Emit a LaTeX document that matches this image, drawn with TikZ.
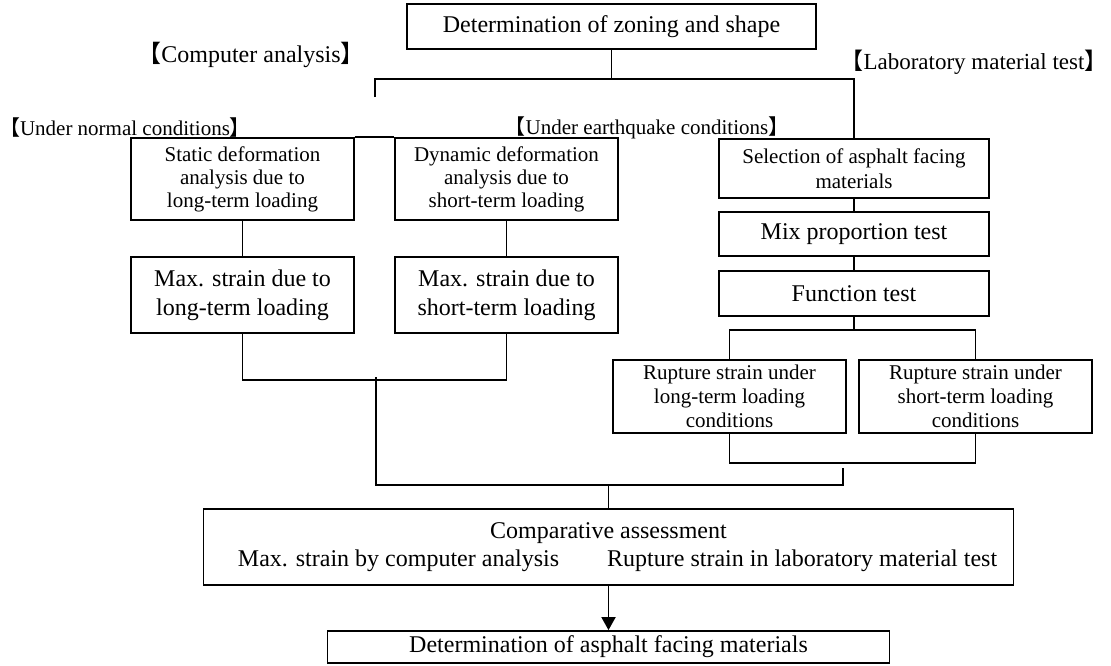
\documentclass[tikz,border=0pt]{standalone}
\usepackage{fontspec}
\setmainfont{Liberation Serif}
\newfontfamily\cjk{Noto Sans CJK JP}
\usetikzlibrary{arrows.meta,positioning,calc}
\newcommand{\openbr}{{\cjk 【}}
\newcommand{\closebr}{{\cjk 】}}

\begin{document}
\begin{tikzpicture}[x=0.5pt, y=-0.5pt,
    box/.style={rectangle, draw, line width=0.9pt, inner sep=0pt, align=center},
    small/.style={font=\fontsize{10.5}{11.5}\selectfont},
    large/.style={font=\fontsize{12}{14.5}\selectfont},
    heading/.style={anchor=base, inner sep=0pt},
    link/.style={line width=0.9pt}]
  \useasboundingbox (0,0) rectangle (1111,665);

  % Zoning and shape
  \node[box, large, minimum width=204.5pt, minimum height=22.5pt] (zoning) at (611.5,26.5) {Determination of zoning and shape};

  % Headings
  \node[heading, font=\fontsize{12}{14}\selectfont] (computer) at (251,62) {\openbr Computer analysis\closebr};
  \node[heading, font=\fontsize{11.5}{14}\selectfont] (laboratory) at (974,69) {\openbr Laboratory material test\closebr};
  \node[heading, font=\fontsize{10.5}{12}\selectfont] (normal) at (125,135) {\openbr Under normal conditions\closebr};
  \node[heading, font=\fontsize{10.5}{12}\selectfont] (quake) at (647,134) {\openbr Under earthquake conditions\closebr};

  % Computer analysis
  \node[box, small, minimum width=111.5pt, minimum height=41pt] (static) at (242.5,179) {Static deformation\\analysis due to\\long-term loading};
  \node[box, small, minimum width=111.5pt, minimum height=41pt] (dynamic) at (506.5,179) {Dynamic deformation\\analysis due to\\short-term loading};
  \node[box, large, minimum width=111.5pt, minimum height=38pt] (maxlong) at (242.5,295) {Max. strain due to\\long-term loading};
  \node[box, large, minimum width=111.5pt, minimum height=38pt] (maxshort) at (506.5,295) {Max. strain due to\\short-term loading};

  % Laboratory material test
  \node[box, font=\fontsize{10.5}{12.5}\selectfont, minimum width=135pt, minimum height=29.5pt] (select) at (854,168.5) {Selection of asphalt facing\\materials};
  \node[box, large, minimum width=135pt, minimum height=22pt] (mix) at (854,234) {Mix proportion test};
  \node[box, large, minimum width=135pt, minimum height=22.5pt] (function) at (854,293.5) {Function test};
  \node[box, font=\fontsize{10.5}{12}\selectfont, minimum width=116.5pt, minimum height=36.5pt] (rupturelong) at (729.5,396.5) {Rupture strain under\\long-term loading\\conditions};
  \node[box, font=\fontsize{10.5}{12}\selectfont, minimum width=116.5pt, minimum height=36.5pt] (ruptureshort) at (975.5,396.5) {Rupture strain under\\short-term loading\\conditions};

  % Assessment
  \node[box, font=\fontsize{12}{14}\selectfont, minimum width=405pt, minimum height=38pt] (compare) at (608.5,547) {Comparative assessment\\\hspace*{9pt}Max. strain by computer analysis\hspace{2em}Rupture strain in laboratory material test};
  \node[box, large, minimum width=281pt, minimum height=16pt] (facing) at (608.5,647) {Determination of asphalt facing materials};

  % Branch points
  \coordinate (topsplit) at (375,79);
  \coordinate (topstub) at (375,97);
  \coordinate (cajoin) at (376,380);
  \coordinate (caend) at (376,377);
  \coordinate (labsplit) at (854,330);
  \coordinate (labjoin) at (852,463);
  \coordinate (labend) at (843,468);
  \coordinate (alljoin) at (608.5,485);

  % Connectors
  \draw[link] (zoning.south) -- (zoning.south |- topsplit);
  \draw[link] (topstub) -- (topsplit) -| (select.north);
  \draw[link] (static.north east) -- (dynamic.north west);
  \draw[link] (static) -- (maxlong);
  \draw[link] (dynamic) -- (maxshort);
  \draw[link] (maxlong.south) |- (cajoin) -| (maxshort.south);
  \draw[link] (select) -- (mix);
  \draw[link] (mix) -- (function);
  \draw[link] (function.south) -- (labsplit);
  \draw[link] (rupturelong.north) |- (labsplit) -| (ruptureshort.north);
  \draw[link] (rupturelong.south) |- (labjoin) -| (ruptureshort.south);
  \draw[link] (labend) |- (alljoin) -| (caend);
  \draw[link] (alljoin) -- (compare.north);
  \draw[link, -{Triangle[length=6.5pt, width=7pt]}] (compare) -- (facing);

\end{tikzpicture}
\end{document}
